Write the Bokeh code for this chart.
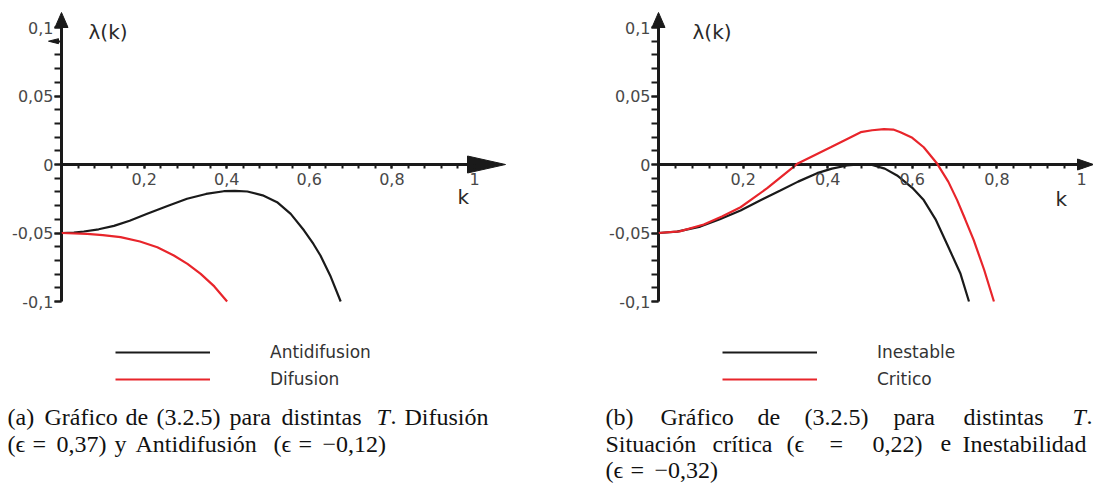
from bokeh.plotting import figure
from bokeh.layouts import row
from bokeh.models import (LinearAxis, FixedTicker, CustomJSTickFormatter, Label,
                          Legend, LegendItem, Range1d)
from bokeh.embed import file_html
from bokeh.resources import INLINE

# ---------------- data ----------------
# (a) Difusión / Antidifusión
k_anti = [0, 0.03, 0.054, 0.09, 0.127, 0.165, 0.2075, 0.255, 0.304, 0.35, 0.393, 0.42,
          0.45, 0.487, 0.522, 0.555, 0.587, 0.61, 0.627, 0.652, 0.676]
lam_anti = [-0.05, -0.0497, -0.0489, -0.0473, -0.0448, -0.041, -0.036, -0.0305, -0.025,
            -0.0215, -0.0195, -0.0192, -0.0197, -0.0225, -0.0275, -0.036, -0.048, -0.058,
            -0.0664, -0.082, -0.1]
k_dif = [0, 0.062, 0.1, 0.143, 0.19, 0.232, 0.272, 0.305, 0.337, 0.37, 0.401]
lam_dif = [-0.05, -0.0506, -0.0515, -0.053, -0.0562, -0.0604, -0.0664, -0.0725, -0.0798,
           -0.089, -0.1]

# (b) Situación crítica / Inestabilidad
k_ines = [0, 0.044, 0.099, 0.145, 0.194, 0.24, 0.288, 0.33, 0.375, 0.41, 0.446, 0.475,
          0.501, 0.535, 0.564, 0.6, 0.627, 0.655, 0.682, 0.714, 0.734]
lam_ines = [-0.05, -0.049, -0.0453, -0.04, -0.0336, -0.0263, -0.019, -0.0125, -0.0063,
            -0.003, -0.0007, 0.0, 0.0, -0.003, -0.008, -0.017, -0.026, -0.04, -0.058,
            -0.0798, -0.1]
k_crit = [0, 0.05, 0.107, 0.15, 0.194, 0.257, 0.328, 0.37, 0.407, 0.445, 0.478, 0.505,
          0.533, 0.555, 0.572, 0.6, 0.627, 0.659, 0.685, 0.706, 0.725, 0.745, 0.77, 0.793]
lam_crit = [-0.05, -0.0488, -0.0438, -0.038, -0.0312, -0.0173, 0.0005, 0.007, 0.0126,
            0.0185, 0.0236, 0.025, 0.0258, 0.0255, 0.0236, 0.0195, 0.0126, 0.0005, -0.0125,
            -0.026, -0.04, -0.055, -0.077, -0.1]

y_major = [-0.1, -0.05, 0, 0.05, 0.1]
y_minor = [round(-0.1 + 0.01 * i, 2) for i in range(21)]
x_major = [0.2, 0.4, 0.6, 0.8, 1.0]
x_minor = [round(0.04 * i, 2) for i in range(26)]

H = 487
RED = "#e8252b"
BLACK = "#1a1a1a"
SANS = "DejaVu Sans"
SERIF = "Liberation Serif"
CAP_SIZE = "24px"
Y0_PX, LSCALE = 164, 1370      # pixel row of λ = 0 and pixels per unit of λ

comma_fmt = "return String(Math.round(tick*1000)/1000).replace('.', ',');"


def panel(width, x0_px, kscale, xarrow_base_px, xarrow_tip_px, xarrow_half_px,
          lam_label_px, k_label_px):
    p = figure(width=width, height=H, output_backend="svg", toolbar_location=None,
               x_axis_location=None, y_axis_location=None, min_border=0,
               outline_line_color=None, background_fill_color="white",
               border_fill_color="white")
    p.x_range = Range1d(-x0_px / kscale, (width - x0_px) / kscale)
    p.y_range = Range1d(-(H - Y0_PX) / LSCALE, Y0_PX / LSCALE)
    p.grid.visible = False

    yax = LinearAxis(fixed_location=0, bounds=(-0.1, 0.1),
                     ticker=FixedTicker(ticks=y_major, minor_ticks=y_minor),
                     formatter=CustomJSTickFormatter(code=comma_fmt))
    xax = LinearAxis(fixed_location=0,
                     ticker=FixedTicker(ticks=x_major, minor_ticks=x_minor),
                     formatter=CustomJSTickFormatter(code=comma_fmt))
    for ax, tick_len, standoff in ((yax, 7, 1), (xax, 4, 4)):
        ax.axis_line_color = None
        ax.major_tick_in = 0
        ax.minor_tick_in = 0
        ax.major_tick_out = tick_len
        ax.minor_tick_out = tick_len
        ax.major_tick_line_width = 2
        ax.minor_tick_line_width = 2
        ax.major_tick_line_color = BLACK
        ax.minor_tick_line_color = BLACK
        ax.major_label_standoff = standoff
        ax.major_label_text_font = SANS
        ax.major_label_text_font_size = "16px"
        ax.major_label_text_color = "#484848"
    p.add_layout(yax, "left")
    p.add_layout(xax, "below")

    # axis lines with arrowheads
    xb = (xarrow_base_px - x0_px) / kscale
    xt = (xarrow_tip_px - x0_px) / kscale
    xh = xarrow_half_px / LSCALE
    yb = 0.1
    yt = (Y0_PX - 12) / LSCALE
    yh = 6.5 / kscale
    p.segment(x0=[0, 0], y0=[0, -0.1], x1=[xb, 0], y1=[0, yb], line_color=BLACK, line_width=3)
    p.patch([xb, xt, xb], [xh, 0, -xh], color=BLACK)
    p.patch([-yh, 0, yh], [yb, yt, yb], color=BLACK)

    lx, ly = lam_label_px
    p.add_layout(Label(x=(lx - x0_px) / kscale, y=(Y0_PX - ly) / LSCALE, text="λ(k)",
                       text_font=SANS, text_font_size="20px", text_color="#2a2a2a",
                       text_baseline="middle"))
    kx, ky = k_label_px
    p.add_layout(Label(x=(kx - x0_px) / kscale, y=(Y0_PX - ky) / LSCALE, text="k",
                       text_font=SANS, text_font_size="20px", text_color="#2a2a2a",
                       text_baseline="middle"))
    return p


def add_legend(p, items, x_left):
    leg = Legend(items=items, location=(x_left, 98), glyph_width=95, glyph_height=20,
                 label_height=20, spacing=7, label_standoff=60, padding=0, margin=0,
                 border_line_color=None, background_fill_alpha=0,
                 label_text_font=SANS, label_text_font_size="17px",
                 label_text_color="#333333")
    p.add_layout(leg)


def caption(p, words, base_y, offset=0):
    for x, txt, italic in words:
        p.add_layout(Label(x=x - offset, y=H - base_y, x_units="screen", y_units="screen",
                           text=txt, text_font=SERIF, text_font_size=CAP_SIZE,
                           text_font_style="italic" if italic else "normal",
                           text_color="#111111", text_baseline="alphabetic"))


# ---------------- panel (a) ----------------
WA = 546
pa = panel(WA, 61, 413, 467, 505, 8.5, (88, 31), (457, 196))
ra_black = pa.line(k_anti, lam_anti, line_color=BLACK, line_width=2.2)
ra_red = pa.line(k_dif, lam_dif, line_color=RED, line_width=2.2)
# small marker on the vertical axis near the top
mk = 0.09
pa.patch([-13 / 413, -3 / 413, -3 / 413], [mk, mk + 2.5 / LSCALE, mk - 2.5 / LSCALE], color=BLACK)
add_legend(pa, [LegendItem(label="Antidifusion", renderers=[ra_black]),
                LegendItem(label="Difusion", renderers=[ra_red])], 115)
caption(pa, [(7, "(a)", False), (44, "Gráfico", False), (125, "de", False),
             (156, "(3.2.5)", False), (229, "para", False), (281, "distintas", False),
             (376, "T", True), (390, ".", False), (404, "Difusión", False)], 416)
caption(pa, [(7, "(ϵ", False), (32, "=", False), (56, "0,37)", False), (114, "y", False),
             (135, "Antidifusión", False), (273, "(ϵ", False), (298, "=", False),
             (322, "−0,12)", False)], 443)

# ---------------- panel (b) ----------------
WB = 547
pb = panel(WB, 658 - WA, 423, 1077 - WA, 1093 - WA, 5.5, (692 - WA, 31), (1055 - WA, 198))
rb_black = pb.line(k_ines, lam_ines, line_color=BLACK, line_width=2.2)
rb_red = pb.line(k_crit, lam_crit, line_color=RED, line_width=2.2)
add_legend(pb, [LegendItem(label="Inestable", renderers=[rb_black]),
                LegendItem(label="Critico", renderers=[rb_red])], 722 - WA)
caption(pb, [(605, "(b)", False), (660, "Gráfico", False), (757, "de", False),
             (804, "(3.2.5)", False), (893, "para", False), (963, "distintas", False),
             (1072, "T", True), (1086, ".", False)], 416, WA)
caption(pb, [(605, "Situación", False), (712, "crítica", False), (786, "(ϵ", False),
             (829, "=", False), (872, "0,22)", False), (940, "e", False),
             (962, "Inestabilidad", False)], 443, WA)
caption(pb, [(605, "(ϵ", False), (630, "=", False), (654, "−0,32)", False)], 469, WA)

layout = row(pa, pb)
open("out.html", "w").write(file_html(layout, INLINE))
